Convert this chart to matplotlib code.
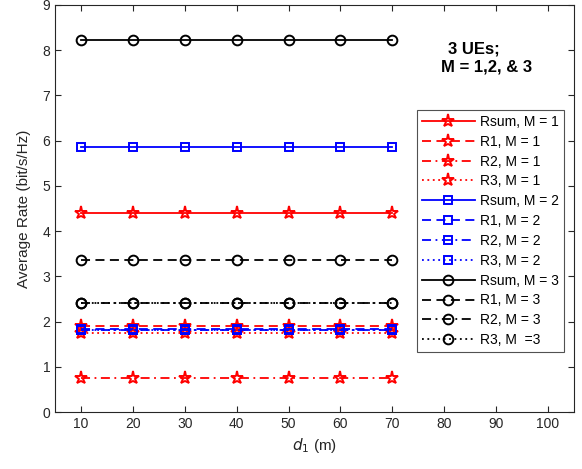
import matplotlib
matplotlib.use("Agg")
import matplotlib.pyplot as plt

plt.rcParams['font.family'] = ['Liberation Sans', 'DejaVu Sans']

d1 = [10, 20, 30, 40, 50, 60, 70]
rsum_m1 = [4.40] * 7
r1_m1 = [1.90] * 7
r2_m1 = [0.75] * 7
r3_m1 = [1.74] * 7
rsum_m2 = [5.87] * 7
r1_m2 = [1.83] * 7
r2_m2 = [1.82] * 7
r3_m2 = [1.81] * 7
rsum_m3 = [8.23] * 7
r1_m3 = [3.36] * 7
r2_m3 = [2.40] * 7
r3_m3 = [2.41] * 7

labels = ["Rsum, M = 1", "R1, M = 1", "R2, M = 1", "R3, M = 1",
          "Rsum, M = 2", "R1, M = 2", "R2, M = 2", "R3, M = 2",
          "Rsum, M = 3", "R1, M = 3", "R2, M = 3", "R3, M  =3"]
xticks = [10, 20, 30, 40, 50, 60, 70, 80, 90, 100]
yticks = [0, 1, 2, 3, 4, 5, 6, 7, 8, 9]

series = [rsum_m1, r1_m1, r2_m1, r3_m1, rsum_m2, r1_m2, r2_m2, r3_m2,
          rsum_m3, r1_m3, r2_m3, r3_m3]
colors = ['#ff0000'] * 4 + ['#0000ff'] * 4 + ['#000000'] * 4
markers = ['*'] * 4 + ['s'] * 4 + ['o'] * 4
msizes = [9.5] * 4 + [5.5] * 4 + [7] * 4
styles = ['-', (0, (5, 3)), (0, (5, 2.5, 1, 2.5)), (0, (1, 2))] * 3

fig = plt.figure(figsize=(5.82, 4.69), dpi=100)
ax = fig.add_axes([55 / 582, 1 - 412 / 469, (574 - 55) / 582, (412 - 5) / 469])

for ys, c, m, ms, ls, lab in zip(series, colors, markers, msizes, styles, labels):
    ax.plot(d1, ys, color=c, marker=m, markersize=ms, linestyle=ls, linewidth=1.3,
            markerfacecolor='none', markeredgecolor=c, markeredgewidth=1.4, label=lab)

ax.set_xlim(5, 105)
ax.set_ylim(0, 9)
ax.set_xticks(xticks)
ax.set_yticks(yticks)
ax.tick_params(direction='in', top=True, right=True, labelsize=10, colors='#262626',
               length=4, width=0.8)
for s in ax.spines.values():
    s.set_color('#262626')
    s.set_linewidth(0.8)

ax.set_xlabel(r'$d_1$ (m)', fontsize=11, color='#262626', labelpad=4)
ax.set_ylabel('Average Rate (bit/s/Hz)', fontsize=11, color='#262626', labelpad=8)

ax.text(0.757, 0.892, '3 UEs;', transform=ax.transAxes, fontsize=12,
        fontweight='bold', ha='left', va='center')
ax.text(0.743, 0.847, 'M = 1,2, & 3', transform=ax.transAxes, fontsize=12,
        fontweight='bold', ha='left', va='center')

leg = ax.legend(loc='upper left', bbox_to_anchor=((417 - 55) / 519, 1 - (110 - 5) / 407),
                fontsize=10, frameon=True, fancybox=False, edgecolor='#262626',
                handlelength=3.8, labelspacing=0.42, borderpad=0.35, handletextpad=0.4,
                borderaxespad=0)
leg.get_frame().set_linewidth(0.8)

fig.savefig('out.png', dpi=100)
